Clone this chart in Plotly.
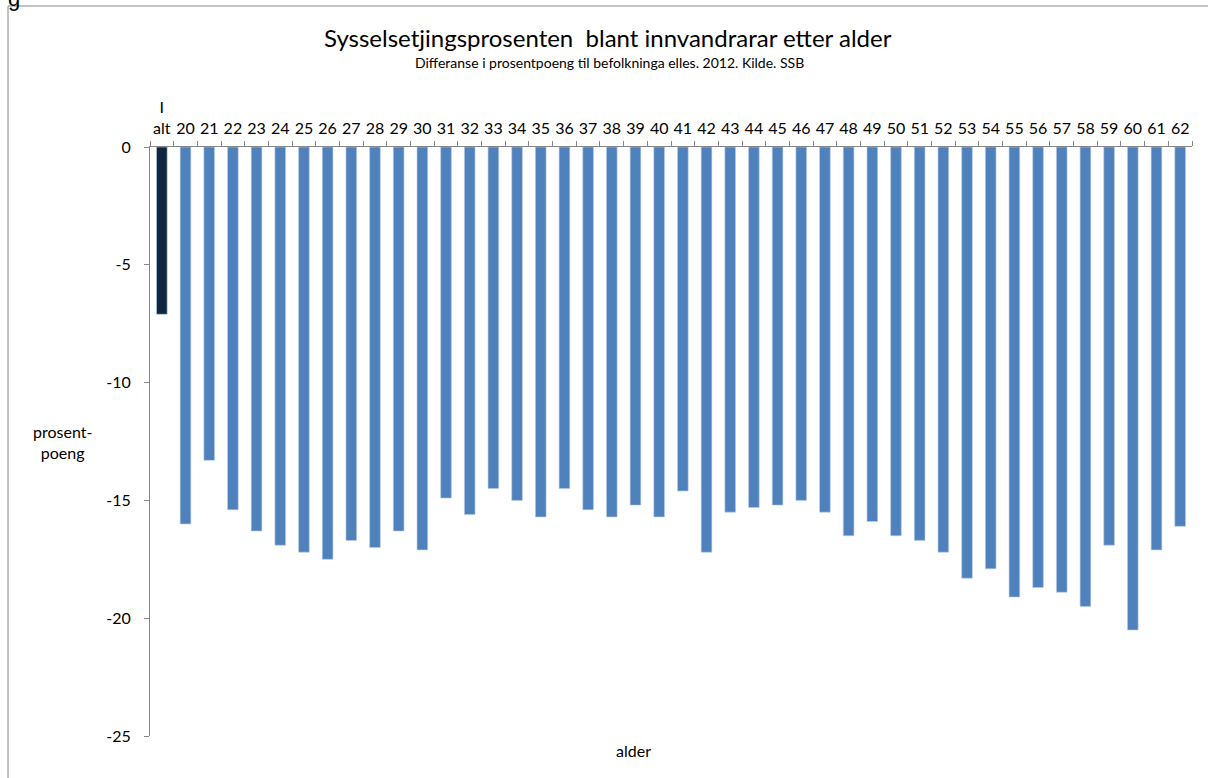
import plotly.graph_objects as go

categories = ["I<br>alt"] + [str(a) for a in range(20, 63)]
values = [-7.1,
          -16.0, -13.3, -15.4, -16.3, -16.9, -17.2, -17.5, -16.7, -17.0, -16.3,
          -17.1, -14.9, -15.6, -14.5, -15.0, -15.7, -14.5, -15.4, -15.7, -15.2,
          -15.7, -14.6, -17.2, -15.5, -15.3, -15.2, -15.0, -15.5, -16.5, -15.9,
          -16.5, -16.7, -17.2, -18.3, -17.9, -19.1, -18.7, -18.9, -19.5, -16.9,
          -20.5, -17.1, -16.1]
bar_colors = ["#10253F"] + ["#4F81BD"] * 43
y_tickvals = [0, -5, -10, -15, -20, -25]
y_ticktext = ["0", "-5", "-10", "-15", "-20", "-25"]

FONT = "Lato, 'Open Sans', sans-serif"

fig = go.Figure(go.Bar(
    x=categories, y=values,
    marker=dict(color=bar_colors, line=dict(color="#B9CDE5", width=0.6)),
    width=0.45,
))

L, R, T, B = 150, 16, 147, 42
W, H = 1208, 778
pw, ph = W - L - R, H - T - B

def px_x(x):
    return (x - L) / pw

def px_y(y):
    return (H - B - y) / ph

fig.update_layout(
    width=W, height=H,
    margin=dict(l=L, r=R, t=T, b=B, autoexpand=False),
    paper_bgcolor="white", plot_bgcolor="white",
    showlegend=False,
    font=dict(family=FONT, color="#000000"),
    xaxis=dict(
        side="top", type="category",
        showline=True, linecolor="#868686", linewidth=1,
        ticks="outside", ticklen=5, tickcolor="#868686", tickson="boundaries",
        tickfont=dict(size=16, family=FONT), ticklabelstandoff=6,
        showgrid=False, tickangle=0,
    ),
    yaxis=dict(
        range=[-25, 0], tickvals=y_tickvals, ticktext=y_ticktext,
        showline=True, linecolor="#868686", linewidth=1,
        ticks="outside", ticklen=5, tickcolor="#868686",
        tickfont=dict(size=16, family=FONT), ticklabelstandoff=10,
        showgrid=False, zeroline=False,
    ),
    shapes=[dict(type="rect", xref="paper", yref="paper",
                 x0=px_x(8), x1=px_x(1212), y0=px_y(782), y1=px_y(6),
                 line=dict(color="#868686", width=1), fillcolor="rgba(0,0,0,0)",
                 layer="below")],
    annotations=[
        dict(text="Sysselsetjingsprosenten  blant innvandrarar etter alder",
             xref="paper", yref="paper", x=px_x(608), y=px_y(37),
             xanchor="center", yanchor="middle", showarrow=False,
             font=dict(size=24, family=FONT)),
        dict(text="Differanse i prosentpoeng til befolkninga elles. 2012. Kilde. SSB",
             xref="paper", yref="paper", x=px_x(609), y=px_y(62),
             xanchor="center", yanchor="middle", showarrow=False,
             font=dict(size=14, family=FONT)),
        dict(text="prosent-<br>poeng",
             xref="paper", yref="paper", x=px_x(62), y=px_y(442),
             xanchor="center", yanchor="middle", showarrow=False,
             font=dict(size=16, family=FONT)),
        dict(text="alder",
             xref="paper", yref="paper", x=px_x(633), y=px_y(750),
             xanchor="center", yanchor="middle", showarrow=False,
             font=dict(size=16, family=FONT)),
        dict(text="g",
             xref="paper", yref="paper", x=px_x(6), y=px_y(-16),
             xanchor="left", yanchor="top", showarrow=False,
             font=dict(size=22, family="Liberation Sans")),
    ],
)

fig.write_html("out.html", config={"displayModeBar": False},
               post_script="document.body.style.margin='0';")
